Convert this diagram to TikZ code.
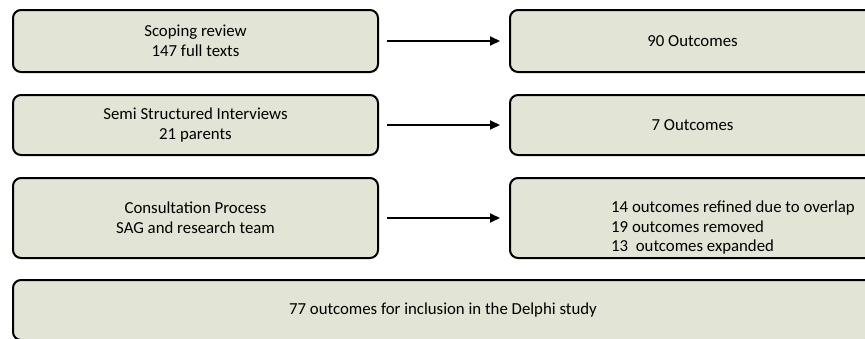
\documentclass[tikz,border=0pt]{standalone}
\usepackage{fontspec}
\setmainfont{Carlito}
\usetikzlibrary{calc, arrows.meta, positioning}

\definecolor{boxfill}{RGB}{226,229,213}

\tikzset{
    stagebox/.style={draw=black, line width=2pt, fill=boxfill, rounded corners=8pt,
        minimum width=365pt, align=center, inner sep=0pt,
        font=\fontsize{16.8}{20}\selectfont},
    flow/.style={line width=2pt, -{Triangle[length=10pt,width=9pt]},
        shorten <=8pt, shorten >=9pt}
}

\begin{document}
\begin{tikzpicture}[x=1pt, y=-1pt]
        \useasboundingbox (0,0) rectangle (865,338);
        \clip (0,0) rectangle (865,338);

        % sources
        \node[stagebox, minimum height=62pt] (scope) at (195.5,41) {Scoping review\\147 full texts};
        \node[stagebox, minimum height=60pt] (semi) at (195.5,125) {Semi Structured Interviews\\21 parents};
        \node[stagebox, minimum height=80pt] (consult) at (195.5,218) {Consultation Process\\SAG and research team};

        % outcomes
        \node[stagebox, minimum height=62pt] (out90) at (692.5,41) {90 Outcomes};
        \node[stagebox, minimum height=60pt] (out7) at (692.5,125) {7 Outcomes};
        \node[stagebox, minimum height=80pt] (refine) at (692.5,218) {};
        \node[anchor=west, align=left, inner sep=0pt, font=\fontsize{16.8}{19.5}\selectfont]
            (refinetxt) at ([xshift=102pt, yshift=-10pt]refine.west)
            {14 outcomes refined due to overlap\\19 outcomes removed\\13\ \ outcomes expanded};

        \node[stagebox, minimum width=860pt, minimum height=60pt] (delphi) at (443,310)
            {77 outcomes for inclusion in the Delphi study};

        \foreach \a/\b in {scope/out90, semi/out7, consult/refine}
        {
            \draw[flow] (\a) -- (\b);
        };

\end{tikzpicture}
\end{document}
